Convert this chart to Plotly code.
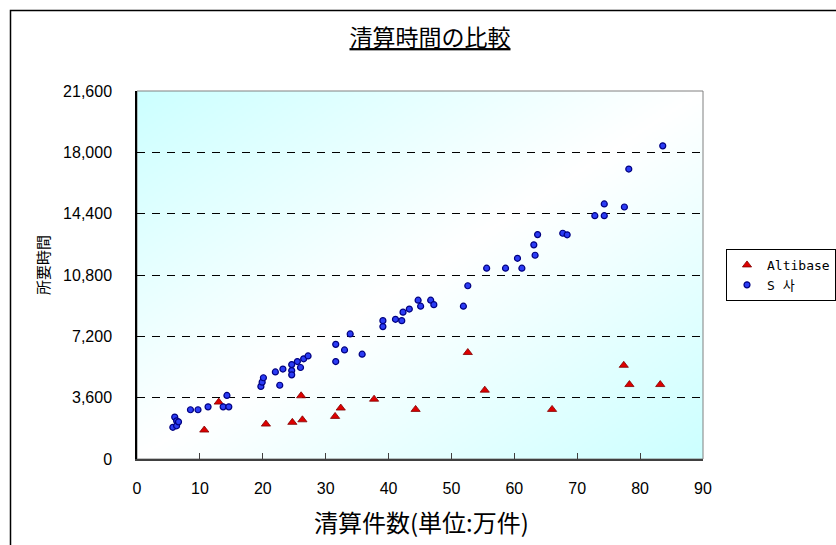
import base64
import struct
import zlib

import plotly.graph_objects as go

# ---------------- data ----------------
title_text = "清算時間の比較"
x_title = "清算件数(単位:万件)"
y_title = "所要時間"

series_names = ["Altibase", "S 사"]

altibase_x = [10.7, 13.0, 20.5, 24.7, 26.1, 26.3, 31.5, 32.4, 37.7, 44.3,
              52.6, 55.3, 66.0, 77.4, 78.3, 83.2]
altibase_y = [1700, 3340, 2050, 2150, 3710, 2300, 2500, 2990, 3510, 2910,
              6250, 4040, 2910, 5500, 4370, 4370]

s_x = [5.7, 6.0, 6.3, 6.3, 6.6, 8.5, 9.7, 11.3, 13.7, 14.6,
       14.3, 19.7, 19.9, 20.1, 22.0, 22.7, 23.2, 24.6, 24.6, 24.6,
       25.5, 26.0, 26.5, 27.2, 31.6, 31.6, 33.0, 33.9, 35.8, 39.1,
       39.1, 41.1, 42.1, 42.3, 43.3, 44.7, 45.1, 46.7, 47.2, 51.9,
       52.6, 55.6, 58.6, 60.5, 61.2, 63.1, 63.3, 63.7, 67.7, 68.4,
       72.8, 74.3, 74.3, 77.5, 78.2, 83.6]
s_y = [1860, 2460, 2240, 1950, 2180, 2890, 2890, 3060, 3060, 3060,
       3730, 4260, 4510, 4770, 5110, 4330, 5280, 5540, 5190, 4940,
       5720, 5370, 5880, 6050, 6730, 5720, 6400, 7340, 6150, 8120,
       7770, 8200, 8120, 8620, 8800, 9320, 8970, 9320, 9060, 8970,
       10170, 11200, 11200, 11780, 11200, 12570, 11960, 13170, 13250, 13160,
       14280, 14280, 14970, 14790, 17020, 18380]

x_range = [0, 90]
x_dtick = 10
y_range = [0, 21600]
y_dtick = 3600


# ---------------- background gradient (diagonal, cyan -> white -> cyan) ----------------
def gradient_png(w, h, edge=(204, 255, 255)):
    raw = bytearray()
    for j in range(h):
        raw.append(0)
        v = j / (h - 1)
        for i in range(w):
            u = i / (w - 1)
            t = (u + v) / 2.0
            s = abs(2 * t - 1) ** 1.0
            raw.extend(int(round(255 * (1 - s) + c * s)) for c in edge)

    def chunk(tag, data):
        body = tag + data
        return struct.pack(">I", len(data)) + body + struct.pack(">I", zlib.crc32(body) & 0xFFFFFFFF)

    png = (b"\x89PNG\r\n\x1a\n"
           + chunk(b"IHDR", struct.pack(">IIBBBBB", w, h, 8, 2, 0, 0, 0))
           + chunk(b"IDAT", zlib.compress(bytes(raw), 9))
           + chunk(b"IEND", b""))
    return "data:image/png;base64," + base64.b64encode(png).decode()


fig = go.Figure()

fig.add_trace(go.Scatter(
    x=altibase_x, y=altibase_y, mode="markers", name=series_names[0],
    marker=dict(symbol="triangle-up", size=8, color="#dd0000",
                line=dict(color="#800000", width=0.8)),
))
fig.add_trace(go.Scatter(
    x=s_x, y=s_y, mode="markers", name=series_names[1],
    marker=dict(symbol="circle", size=6, color="#2b3cf5",
                line=dict(color="#000080", width=1.2)),
))

W, H = 836, 545
L, R, T, B = 137, 836 - 703, 91, 545 - 459
pw, ph = W - L - R, H - T - B


def px_x(px):
    return (px - L) / pw


def px_y(py):
    return (H - B - py) / ph


tick_font = dict(family="Liberation Sans, Arial, sans-serif", size=16, color="#000000")

fig.update_layout(
    width=W, height=H,
    margin=dict(l=L, r=R, t=T, b=B, autoexpand=False),
    paper_bgcolor="#ffffff",
    plot_bgcolor="rgba(0,0,0,0)",
    showlegend=True,
    title=dict(
        text="<u>" + title_text + "</u>",
        x=430 / W, xref="container", xanchor="center",
        y=1 - 38 / H, yref="container", yanchor="middle",
        font=dict(family="Noto Sans CJK JP", size=23, color="#000000"),
    ),
    xaxis=dict(
        range=x_range, dtick=x_dtick, tick0=0,
        showgrid=False, zeroline=False,
        showline=True, linecolor="#404040", linewidth=2,
        ticks="inside", ticklen=6, tickcolor="#404040", tickwidth=1,
        tickfont=tick_font, ticklabelstandoff=14,
    ),
    yaxis=dict(
        range=y_range, dtick=y_dtick, tick0=0, tickformat=",d",
        showgrid=True, gridcolor="#000000", griddash="8px,7px", gridwidth=1,
        zeroline=False,
        showline=True, linecolor="#000000", linewidth=1.5,
        ticks="outside", ticklen=20, tickcolor="rgba(0,0,0,0)",
        tickfont=tick_font,
    ),
    legend=dict(
        x=px_x(726), xanchor="left", y=px_y(249), yanchor="top",
        bgcolor="rgba(255,255,255,0)", bordercolor="#000000", borderwidth=1,
        font=dict(family="DejaVu Sans Mono, Noto Sans CJK KR", size=13, color="#000000"),
        itemwidth=30,
    ),
    annotations=[
        dict(text=x_title, xref="paper", yref="paper", x=px_x(421), y=px_y(521),
             xanchor="center", yanchor="middle", showarrow=False,
             font=dict(family="Noto Sans CJK JP", size=24, color="#000000")),
        dict(text=y_title, xref="paper", yref="paper", x=px_x(42), y=px_y(265),
             xanchor="center", yanchor="middle", showarrow=False, textangle=-90,
             font=dict(family="Noto Sans CJK JP", size=15, color="#000000")),
    ],
    images=[dict(
        source=gradient_png(283, 184), xref="paper", yref="paper",
        x=0, y=1, sizex=1, sizey=1, sizing="stretch", layer="below",
        xanchor="left", yanchor="top",
    )],
    shapes=[
        # plot-area frame (top / right edges are grey)
        dict(type="rect", xref="paper", yref="paper", x0=0, x1=1, y0=0, y1=1,
             line=dict(color="#808080", width=1), layer="below"),
        # outer chart-area frame
        dict(type="rect", xref="paper", yref="paper",
             x0=px_x(10.5), x1=px_x(W + 20), y0=px_y(H + 20), y1=px_y(10.5),
             line=dict(color="#000000", width=1.5), layer="below"),
    ],
)

fig.write_html(
    "out.html",
    config={"displayModeBar": False},
    post_script="document.body.style.margin='0';document.body.style.overflow='hidden';",
)
